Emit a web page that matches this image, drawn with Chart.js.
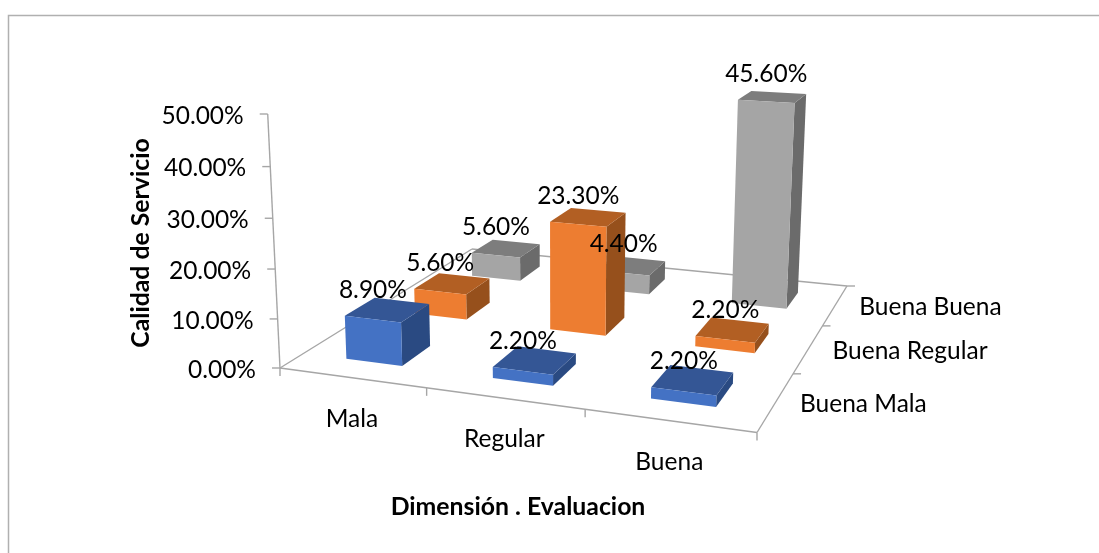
<!DOCTYPE html>
<html>
<head>
<meta charset="utf-8">
<script src="https://cdn.jsdelivr.net/npm/chart.js@4/dist/chart.umd.js"></script>
<style>
  html, body { margin: 0; padding: 0; background: #ffffff; }
  canvas { display: block; }
</style>
</head>
<body>
<canvas id="chart" width="1099" height="553"></canvas>
<script>
// Survey results: share of respondents per evaluation level and service quality level.
const categories = ['Mala', 'Regular', 'Buena'];
const depthLabels = ['Buena Mala', 'Buena Regular', 'Buena Buena'];
const buenaMala = [8.9, 2.2, 2.2];
const buenaRegular = [5.6, 23.3, 2.2];
const buenaBuena = [5.6, 4.4, 45.6];
const valueMax = 50;
const valueStep = 10;
const xTitle = 'Dimensión . Evaluacion';
const yTitle = 'Calidad de Servicio';

// Face colours per series: front, top, side.
const faces = [
  { front: '#4472C4', top: '#345695', side: '#2A4A82' },
  { front: '#ED7D31', top: '#B25F23', side: '#96501C' },
  { front: '#A5A5A5', top: '#7D7D7D', side: '#6B6B6B' }
];

const FONT = 'Lato, Carlito, sans-serif';
const LABEL_SIZE = 24.5;
const TITLE_SIZE = 24.8;
const AXIS_COLOR = '#A6A6A6';
const DEPTH_FILL = 0.41;

// Perspective camera: floor corners on screen, top of the value axis, vertical vanishing point.
const camera = (() => {
  const p0 = [280, 368], p1 = [757, 432.5], p2 = [847, 286], p3 = [472, 249];
  const top = 114, vanish = [557, 6095];
  const dx1 = p1[0] - p2[0], dx2 = p3[0] - p2[0], sx = p0[0] - p1[0] + p2[0] - p3[0];
  const dy1 = p1[1] - p2[1], dy2 = p3[1] - p2[1], sy = p0[1] - p1[1] + p2[1] - p3[1];
  const det = dx1 * dy2 - dx2 * dy1;
  const g = (sx * dy2 - dx2 * sy) / det;
  const h = (dx1 * sy - sx * dy1) / det;
  const a = p1[0] - p0[0] + g * p1[0], b = p3[0] - p0[0] + h * p3[0];
  const d = p1[1] - p0[1] + g * p1[1], e = p3[1] - p0[1] + h * p3[1];
  const k = (top - p0[1]) / (vanish[1] - top);
  return (u, v, w) => {
    const z = g * u + h * w + 1 + k * v;
    return [
      (a * u + b * w + p0[0] + k * vanish[0] * v) / z,
      (d * u + e * w + p0[1] + k * vanish[1] * v) / z
    ];
  };
})();

function polygon(ctx, points, fill) {
  ctx.beginPath();
  points.forEach((p, i) => (i ? ctx.lineTo(p[0], p[1]) : ctx.moveTo(p[0], p[1])));
  ctx.closePath();
  ctx.fillStyle = fill;
  ctx.fill();
}

function segment(ctx, a, b) {
  ctx.beginPath();
  ctx.moveTo(a[0], a[1]);
  ctx.lineTo(b[0], b[1]);
  ctx.stroke();
}

// Normalised positions on the three scales.
const uOf = (chart, px) => (px - chart.scales.x.left) / chart.scales.x.width;
const vOf = (chart, px) => (chart.scales.y.bottom - px) / chart.scales.y.height;
const wOf = (chart, i) => (chart.scales.depth.getPixelForValue(i) - chart.scales.depth.left) / chart.scales.depth.width;

function barBox(chart, rect, seriesIndex) {
  const halfU = rect.width / 2 / chart.scales.x.width;
  const u = uOf(chart, rect.x);
  const halfW = DEPTH_FILL / depthLabels.length / 2;
  const w = wOf(chart, seriesIndex);
  return { u0: u - halfU, u1: u + halfU, w0: w - halfW, w1: w + halfW, v0: vOf(chart, rect.base), v1: vOf(chart, rect.y) };
}

// Bar controller that paints each bar as a box in the perspective space.
class Bar3dController extends Chart.BarController {
  draw() {
    const chart = this.chart, ctx = chart.ctx, meta = this._cachedMeta;
    const colors = faces[this.index];
    meta.data.forEach(rect => {
      const b = barBox(chart, rect, this.index);
      polygon(ctx, [camera(b.u1, b.v0, b.w0), camera(b.u1, b.v0, b.w1), camera(b.u1, b.v1, b.w1), camera(b.u1, b.v1, b.w0)], colors.side);
      polygon(ctx, [camera(b.u0, b.v1, b.w0), camera(b.u1, b.v1, b.w0), camera(b.u1, b.v1, b.w1), camera(b.u0, b.v1, b.w1)], colors.top);
      polygon(ctx, [camera(b.u0, b.v0, b.w0), camera(b.u1, b.v0, b.w0), camera(b.u1, b.v1, b.w0), camera(b.u0, b.v1, b.w0)], colors.front);
    });
  }
}
Bar3dController.id = 'bar3d';
Bar3dController.defaults = Chart.BarController.defaults;
Bar3dController.overrides = Chart.BarController.overrides;
Chart.register(Bar3dController);

// Frame, floor outline, axes with their ticks and labels.
const axesPlugin = {
  id: 'axes3d',
  beforeDatasetsDraw(chart) {
    const ctx = chart.ctx, { x, y, depth } = chart.scales;
    ctx.save();
    ctx.strokeStyle = '#B0B0B0';
    ctx.lineWidth = 1.5;
    ctx.beginPath();
    ctx.moveTo(8.5, chart.height);
    ctx.lineTo(8.5, 15.5);
    ctx.lineTo(chart.width, 15.5);
    ctx.stroke();

    ctx.strokeStyle = AXIS_COLOR;
    ctx.lineWidth = 1.4;
    segment(ctx, camera(0, 0, 0), camera(1, 0, 0));
    segment(ctx, camera(1, 0, 0), camera(1, 0, 1));
    segment(ctx, camera(1, 0, 1), camera(0, 0, 1));
    segment(ctx, camera(0, 0, 1), camera(0, 0, 0));
    segment(ctx, camera(0, 0, 0), camera(0, 1, 0));

    ctx.fillStyle = '#000000';
    ctx.font = LABEL_SIZE + 'px ' + FONT;

    // Value axis
    ctx.textAlign = 'right';
    ctx.textBaseline = 'middle';
    y.ticks.forEach(t => {
      const p = camera(0, vOf(chart, y.getPixelForValue(t.value)), 0);
      segment(ctx, p, [p[0] - 8, p[1]]);
      ctx.fillText(t.label, p[0] - 24, p[1] + 2);
    });

    // Category axis: ticks on the boundaries, labels at the centres
    for (let i = 0; i <= categories.length; i++) {
      const p = camera(i / categories.length, 0, 0);
      segment(ctx, p, [p[0], p[1] + 8]);
    }
    ctx.textAlign = 'center';
    x.ticks.forEach((t, i) => {
      const p = camera(uOf(chart, x.getPixelForTick(i)), 0, 0);
      ctx.fillText(t.label, p[0], p[1] + 41);
    });

    // Depth axis
    for (let i = 0; i <= depthLabels.length; i++) {
      const p = camera(1, 0, i / depthLabels.length);
      if (i > 0) segment(ctx, p, [p[0] + 8, p[1]]);
    }
    ctx.textAlign = 'left';
    depth.ticks.forEach((t, i) => {
      const p = camera(1, 0, wOf(chart, i));
      ctx.fillText(t.label, p[0] + 24, p[1] + 2);
    });

    // Axis titles
    ctx.font = 'bold ' + TITLE_SIZE + 'px ' + FONT;
    ctx.textAlign = 'center';
    ctx.fillText(xTitle, 518, 507);
    ctx.translate(141, 243);
    ctx.rotate(-Math.PI / 2);
    ctx.fillText(yTitle, 0, 0);
    ctx.restore();
  },
  afterDatasetsDraw(chart) {
    const ctx = chart.ctx;
    ctx.save();
    ctx.fillStyle = '#000000';
    ctx.font = LABEL_SIZE + 'px ' + FONT;
    ctx.textAlign = 'center';
    ctx.textBaseline = 'middle';
    chart.data.datasets.forEach((ds, di) => {
      chart.getDatasetMeta(di).data.forEach((rect, i) => {
        const b = barBox(chart, rect, di);
        const l = camera(b.u0, b.v1, b.w0), r = camera(b.u1, b.v1, b.w0);
        ctx.fillText(ds.data[i].toFixed(2) + '%', (l[0] + r[0]) / 2, l[1] - 26);
      });
    });
    ctx.restore();
  }
};

const seriesValues = [buenaMala, buenaRegular, buenaBuena];

new Chart(document.getElementById('chart'), {
  type: 'bar3d',
  data: {
    labels: categories,
    datasets: depthLabels.map((label, i) => ({ label, data: seriesValues[i] }))
  },
  plugins: [axesPlugin],
  options: {
    responsive: false,
    animation: false,
    datasets: { bar3d: { grouped: false, barPercentage: 0.39, categoryPercentage: 1 } },
    layout: { padding: 0 },
    plugins: { legend: { display: false }, tooltip: { enabled: false } },
    scales: {
      x: { type: 'category', display: false, offset: true },
      depth: { type: 'category', axis: 'x', labels: depthLabels, display: false, offset: true },
      y: {
        type: 'linear', display: false, min: 0, max: valueMax,
        ticks: { stepSize: valueStep, callback: v => v.toFixed(2) + '%' }
      }
    }
  }
});
</script>
</body>
</html>
